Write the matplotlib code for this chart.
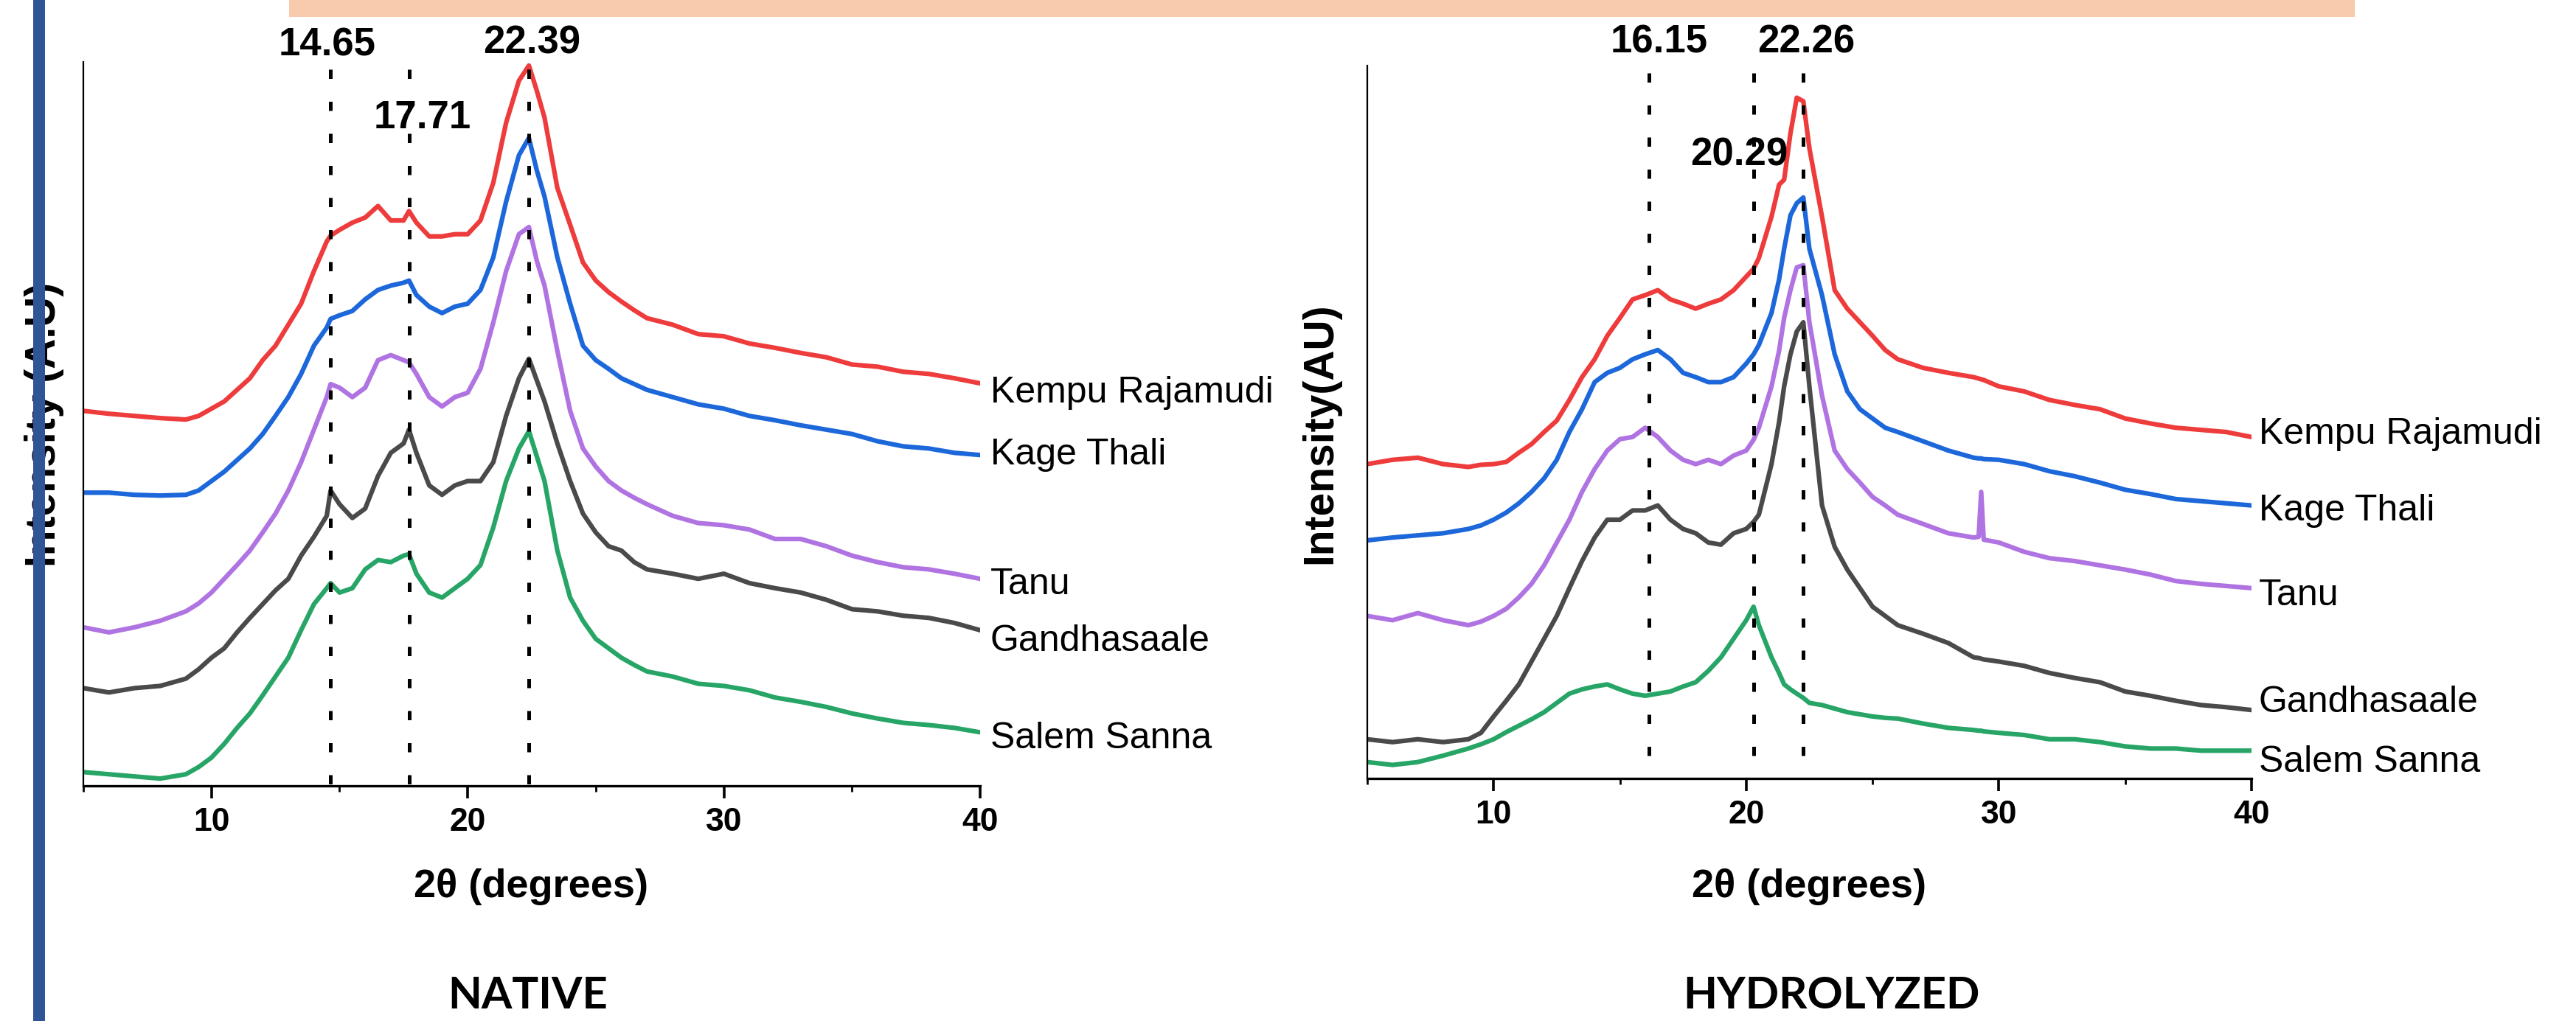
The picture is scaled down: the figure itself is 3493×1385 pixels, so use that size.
import matplotlib.pyplot as plt
from matplotlib.patches import Rectangle

plt.rcParams['font.family'] = ['Liberation Sans', 'DejaVu Sans']

names = ['Kempu Rajamudi', 'Kage Thali', 'Tanu', 'Gandhasaale', 'Salem Sanna']
colors = ['#EE3B3B', '#1C67D9', '#B073E2', '#4A4A4A', '#27A567']

# native starch, 2theta (deg) and stacked intensity (AU)
theta_native = [5, 6, 7, 8, 9, 9.5, 10, 10.5, 11, 11.5, 12, 12.5, 13, 13.5, 14, 14.5, 14.65,
                15, 15.5, 16, 16.5, 17, 17.5, 17.71, 18, 18.5, 19, 19.5, 20, 20.5, 21, 21.5, 22,
                22.39, 22.7, 23, 23.5, 24, 24.5, 25, 25.5, 26, 26.5,
                27, 28, 29, 30, 31, 32, 33, 34, 35, 36, 37, 38, 39, 40]
native_kempu = [51.8, 51.4, 51.1, 50.8, 50.6, 51.1, 52.1, 53.1, 54.7, 56.3, 58.8, 60.8, 63.7, 66.6, 71.1, 75.2, 76.0,
                76.8, 77.8, 78.5, 80.1, 78.1, 78.1, 79.4, 77.8, 75.9, 75.9, 76.2, 76.2, 78.1, 83.3, 91.6, 97.4,
                99.5, 96.0, 92.3, 82.6, 77.5, 72.3, 69.8, 68.2, 66.9, 65.7,
                64.6, 63.7, 62.4, 62.1, 61.1, 60.5, 59.8, 59.2, 58.2, 57.9, 57.2, 56.9, 56.3, 55.6]
native_kage = [40.5, 40.5, 40.2, 40.1, 40.2, 40.8, 42.1, 43.4, 45.0, 46.6, 48.6, 51.1, 53.7, 56.9, 60.8, 63.3, 64.5,
               65.0, 65.6, 67.2, 68.5, 69.1, 69.5, 69.8, 67.8, 66.2, 65.3, 66.2, 66.6, 68.5, 73.0, 80.7, 87.1,
               89.5, 85.0, 81.4, 73.0, 66.6, 60.8, 58.8, 57.6, 56.3, 55.5,
               54.7, 53.7, 52.7, 52.1, 51.1, 50.5, 49.8, 49.2, 48.6, 47.6, 46.9, 46.6, 46.0, 45.7]
native_tanu = [21.9, 21.2, 21.9, 22.8, 24.1, 25.2, 26.7, 28.6, 30.5, 32.5, 35.0, 37.6, 40.8, 44.7, 49.2, 53.7, 55.5,
               55.0, 53.7, 55.0, 58.8, 59.5, 58.8, 58.5, 56.9, 53.7, 52.4, 53.7, 54.3, 57.6, 64.0, 71.1, 76.2,
               77.2, 72.5, 69.1, 60.1, 51.8, 46.6, 44.1, 42.1, 40.8, 39.8,
               38.9, 37.3, 36.3, 36.0, 35.4, 34.1, 34.1, 33.1, 31.8, 30.9, 30.2, 29.9, 29.3, 28.6]
native_gandha = [13.5, 12.9, 13.5, 13.8, 14.8, 16.1, 17.7, 19.0, 21.2, 23.2, 25.1, 27.0, 28.6, 31.8, 34.4, 37.3, 40.8,
                 38.9, 37.0, 38.3, 42.8, 46.0, 47.3, 49.2, 46.0, 41.5, 40.2, 41.5, 42.1, 42.1, 44.7, 51.1, 56.3,
                 59.0, 56.0, 53.1, 47.3, 42.1, 37.6, 35.0, 33.1, 32.5, 30.9,
                 29.9, 29.3, 28.6, 29.3, 28.0, 27.3, 26.7, 25.7, 24.4, 24.1, 23.5, 23.2, 22.5, 21.5]
native_salem = [1.9, 1.6, 1.3, 1.0, 1.6, 2.6, 3.9, 5.8, 8.0, 10.0, 12.5, 15.1, 17.7, 21.5, 25.1, 27.3, 28.0,
                26.7, 27.3, 29.9, 31.2, 30.9, 31.8, 32.0, 29.3, 26.7, 26.0, 27.3, 28.6, 30.5, 35.7, 42.1, 46.6,
                49.0, 45.5, 42.1, 32.5, 26.0, 22.8, 20.3, 19.0, 17.7, 16.7,
                15.8, 15.1, 14.1, 13.8, 13.2, 12.2, 11.6, 10.9, 10.0, 9.3, 8.7, 8.4, 8.0, 7.4]

# hydrolyzed starch
theta_hydro = [5, 6, 7, 8, 9, 9.5, 10, 10.5, 11, 11.5, 12, 12.5, 13, 13.5, 14, 14.5, 15, 15.5, 16, 16.5,
               17, 17.5, 18, 18.5, 19, 19.5, 20, 20.29, 20.5, 21, 21.3, 21.5, 21.75, 22, 22.26, 22.5,
               23, 23.5, 24, 24.5, 25, 25.5, 26, 27, 28, 29, 29.2, 29.3, 29.4,
               30, 31, 32, 33, 34, 35, 36, 37, 38, 39, 40]
hydro_kempu = [44.1, 44.7, 45.0, 44.1, 43.7, 44.0, 44.1, 44.4, 45.7, 46.9, 48.6, 50.2, 53.1, 56.3, 58.8, 62.1, 64.6, 67.2, 67.8, 68.5,
               67.2, 66.6, 65.9, 66.6, 67.2, 68.5, 70.4, 71.5, 73.0, 78.8, 83.3, 84.0, 90.5, 95.5, 95.0, 88.4,
               78.8, 68.5, 65.9, 64.0, 62.1, 60.1, 58.8, 57.6, 56.9, 56.3, 56.1, 56.0, 55.9,
               55.0, 54.3, 53.1, 52.4, 51.8, 50.5, 49.8, 49.2, 48.9, 48.6, 47.9]
hydro_kage = [33.4, 33.8, 34.1, 34.4, 35.0, 35.5, 36.3, 37.3, 38.6, 40.2, 42.1, 44.7, 48.6, 51.8, 55.6, 56.9, 57.6, 58.8, 59.5, 60.1,
              58.8, 56.9, 56.3, 55.6, 55.6, 56.3, 58.2, 59.5, 60.8, 65.3, 70.0, 74.3, 79.0, 80.7, 81.5, 74.3,
              67.8, 59.5, 54.3, 51.8, 50.5, 49.2, 48.6, 47.3, 46.0, 45.0, 44.9, 44.9, 44.8,
              44.7, 44.1, 43.1, 42.4, 41.5, 40.5, 39.9, 39.2, 38.9, 38.6, 38.3]
hydro_tanu = [22.8, 22.2, 23.2, 22.2, 21.5, 22.0, 22.8, 23.8, 25.4, 27.3, 29.9, 33.1, 36.3, 40.2, 43.4, 46.0, 47.6, 47.9, 49.2, 47.9,
              46.0, 44.7, 44.1, 44.7, 44.1, 45.3, 46.0, 47.5, 49.2, 55.0, 60.0, 64.6, 68.5, 71.7, 72.0, 64.0,
              53.7, 46.0, 43.4, 41.5, 39.5, 38.3, 37.0, 35.7, 34.4, 33.8, 33.9, 40.2, 33.5,
              33.1, 31.8, 30.9, 30.5, 29.9, 29.3, 28.6, 27.7, 27.3, 27.0, 26.7]
hydro_gandha = [5.5, 5.1, 5.5, 5.1, 5.5, 6.4, 8.7, 10.9, 13.2, 16.4, 19.6, 22.8, 26.7, 30.5, 33.8, 36.3, 36.3, 37.6, 37.6, 38.3,
                36.3, 35.0, 34.4, 33.1, 32.8, 34.4, 35.0, 36.0, 37.0, 44.1, 50.0, 55.0, 59.5, 62.7, 64.0, 55.0,
                38.3, 32.5, 29.3, 26.7, 24.1, 22.8, 21.5, 20.3, 19.0, 17.0, 16.9, 16.8, 16.7,
                16.4, 15.8, 14.8, 14.1, 13.5, 12.2, 11.6, 10.9, 10.3, 10.0, 9.6]
hydro_salem = [2.3, 1.9, 2.3, 3.2, 4.2, 4.8, 5.5, 6.5, 7.4, 8.3, 9.3, 10.6, 11.9, 12.5, 12.9, 13.2, 12.5, 11.9, 11.6, 11.9,
               12.2, 12.9, 13.5, 15.1, 17.0, 19.6, 22.2, 24.1, 21.5, 17.0, 14.8, 13.2, 12.5, 11.9, 11.3, 10.6,
               10.3, 9.8, 9.3, 9.0, 8.7, 8.5, 8.4, 7.7, 7.1, 6.8, 6.7, 6.7, 6.6,
               6.4, 6.1, 5.5, 5.5, 5.1, 4.5, 4.2, 4.2, 3.9, 3.9, 3.9]

native_peaks = [14.65, 17.71, 22.39]
hydro_peaks = [16.15, 20.29, 22.26]

W, H = 3493, 1385
fig = plt.figure(figsize=(W / 100, H / 100), dpi=100)


def px_axes(x0, y0, x1, y1):
    return fig.add_axes([x0 / W, 1 - y1 / H, (x1 - x0) / W, (y1 - y0) / H])


def draw_panel(ax, theta, series, peaks, label_pos, name_dx, name_dy):
    for vals, name, c, dy in zip(series, names, colors, name_dy):
        ax.plot(theta, vals, color=c, lw=4.5, solid_joinstyle='round')
        ax.annotate(name, (theta[-1], vals[-1]), xytext=(name_dx, dy), textcoords='offset points',
                    va='center', ha='left', fontsize=36, annotation_clip=False)
    for p in peaks:
        ax.plot([p, p], [99, 0], color='black', lw=3.6, linestyle=(0, (2.5, 6.2)), zorder=4, clip_on=False)
    for p, (lx, ly) in zip(peaks, label_pos):
        ax.text(lx, ly, f'{p:.2f}', ha='center', va='center', fontsize=38, fontweight='bold', clip_on=False)
    ax.set_xlim(5, 40)
    ax.set_ylim(0, 100)
    ax.spines['top'].set_visible(False)
    ax.spines['right'].set_visible(False)
    ax.spines['left'].set_linewidth(1.6)
    ax.spines['bottom'].set_linewidth(2.4)
    ax.set_yticks([])
    ax.set_xticks([10, 20, 30, 40])
    ax.set_xticks([5, 15, 25, 35], minor=True)
    ax.tick_params(axis='x', which='major', direction='out', length=12, width=2.6, pad=9, labelsize=32)
    ax.tick_params(axis='x', which='minor', direction='out', length=6, width=2)
    for lab in ax.get_xticklabels():
        lab.set_fontweight('bold')


ax1 = px_axes(113, 84, 1329, 1066)
draw_panel(ax1, theta_native,
           [native_kempu, native_kage, native_tanu, native_gandha, native_salem],
           native_peaks, [(14.53, 102.3), (18.24, 92.3), (22.5, 102.6)],
           10, [-9, 0, -6, -11, -6])

ax2 = px_axes(1854, 89, 3053, 1056)
draw_panel(ax2, theta_hydro,
           [hydro_kempu, hydro_kage, hydro_tanu, hydro_gandha, hydro_salem],
           hydro_peaks, [(16.55, 103.3), (19.72, 87.4), (22.38, 103.3)],
           7, [3, -5, -7, 7, -11])

# axis titles
fig.text(720 / W, 1 - 1203 / H, '2θ (degrees)', ha='center', va='center', fontsize=39, fontweight='bold')
fig.text(2453 / W, 1 - 1203 / H, '2θ (degrees)', ha='center', va='center', fontsize=39, fontweight='bold')
fig.text(60 / W, 1 - 576 / H, 'Intensity (A.U)', rotation=90, ha='center', va='center',
         fontsize=41, fontweight='bold')
fig.text(1790 / W, 1 - 588 / H, 'Intensity(AU)', rotation=90, ha='center', va='center',
         fontsize=41, fontweight='bold')
fig.text(716 / W, 1 - 1351 / H, 'NATIVE', ha='center', va='center', fontsize=43, fontweight='bold',
         family=['Lato', 'DejaVu Sans'])
fig.text(2483 / W, 1 - 1351 / H, 'HYDROLYZED', ha='center', va='center', fontsize=43, fontweight='bold',
         family=['Lato', 'DejaVu Sans'])

# slide decoration: peach title band and blue side bar
fig.patches.append(Rectangle((392 / W, 1 - 23 / H), (3193 - 392) / W, 23 / H, transform=fig.transFigure,
                             facecolor='#F8CBAD', edgecolor='none', zorder=1))
fig.patches.append(Rectangle((45 / W, 0), 16 / W, 1, transform=fig.transFigure,
                             facecolor='#2F5597', edgecolor='none', zorder=10))

fig.savefig('out.png', dpi=100)
